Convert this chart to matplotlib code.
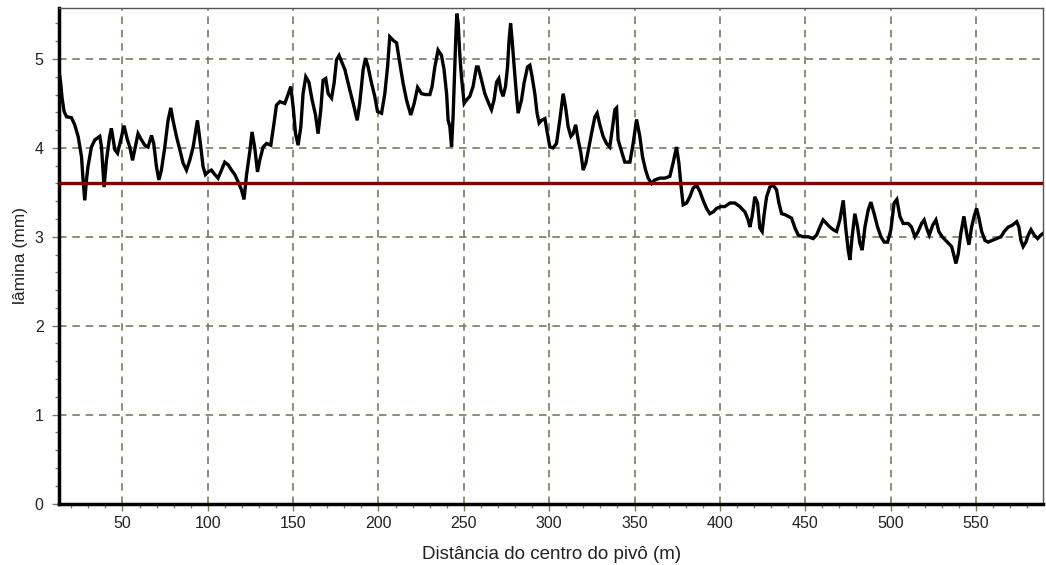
import numpy as np
import matplotlib
matplotlib.use("Agg")
import matplotlib.pyplot as plt
from matplotlib.ticker import MultipleLocator

## distancia ao centro do pivo (m)
distancia = [
    12.7, 13.8, 14.6, 15.8, 17.2, 20.1, 22.0, 24.0, 26.0, 26.9, 27.9, 28.9, 29.8, 31.8, 33.8, 36.7, 37.7, 39.2,
    40.6, 42.5, 43.5, 45.5, 47.1, 49.0, 50.9, 52.9, 54.3, 55.9, 57.2, 59.1, 61.1, 63.1, 65.0, 67.0, 68.3, 69.9,
    71.3, 72.8, 74.8, 76.7, 78.3, 79.6, 81.6, 83.6, 85.5, 87.5, 89.4, 91.4, 93.9, 95.9, 97.2, 98.6, 100.2, 102.1,
    104.1, 106.0, 108.0, 109.9, 111.9, 113.9, 115.8, 117.7, 119.7, 121.2, 122.7, 124.6, 125.9, 127.5, 129.1, 130.4,
    132.4, 134.4, 136.9, 138.8, 140.2, 142.2, 145.1, 147.0, 148.6, 150.0, 151.4, 152.9, 154.5, 155.8, 157.4, 159.2,
    161.1, 163.1, 164.6, 166.2, 167.5, 169.1, 170.5, 172.5, 174.0, 175.4, 176.9, 180.3, 183.2, 185.7, 187.5, 189.0,
    191.0, 192.4, 193.9, 195.9, 197.8, 199.4, 201.8, 203.7, 205.3, 206.6, 208.6, 210.6, 212.5, 214.4, 216.4, 218.9,
    220.9, 222.9, 225.2, 227.5, 230.1, 231.4, 233.0, 234.9, 236.9, 238.4, 239.9, 240.8, 241.8, 242.8, 243.7, 244.7,
    245.3, 245.9, 246.7, 247.6, 248.6, 250.2, 251.6, 253.5, 255.4, 257.4, 258.4, 260.4, 262.3, 264.6, 266.2, 267.7,
    269.2, 270.5, 271.7, 273.0, 274.4, 275.6, 276.5, 277.4, 278.3, 279.5, 280.9, 281.8, 283.8, 285.3, 287.3, 288.7,
    290.0, 291.6, 292.9, 294.1, 295.5, 297.5, 299.0, 300.4, 302.3, 304.3, 306.2, 308.2, 309.6, 311.1, 312.7, 314.0,
    315.5, 317.0, 318.6, 319.9, 321.5, 323.2, 325.2, 326.8, 328.1, 329.7, 331.6, 333.6, 335.5, 336.9, 338.5, 339.5,
    340.4, 342.4, 344.3, 347.3, 349.2, 351.2, 353.1, 354.7, 356.5, 358.0, 360.0, 361.9, 364.9, 367.8, 370.7, 372.6,
    374.6, 376.0, 377.2, 378.5, 380.5, 382.4, 384.4, 386.4, 388.3, 390.2, 392.2, 394.1, 396.1, 398.1, 400.6, 402.9,
    405.9, 408.8, 411.7, 414.7, 416.6, 417.6, 418.9, 420.5, 422.1, 423.4, 424.8, 426.0, 427.4, 429.3, 431.2, 433.2,
    434.6, 436.2, 438.1, 440.0, 442.0, 444.0, 445.9, 448.8, 451.8, 454.7, 456.7, 458.6, 460.5, 462.5, 464.5, 466.4,
    468.4, 470.3, 472.3, 473.7, 475.2, 476.2, 477.5, 479.1, 480.7, 482.0, 483.4, 485.0, 486.9, 488.5, 490.4, 492.4,
    494.4, 496.3, 498.3, 500.2, 502.1, 503.7, 505.5, 507.4, 510.4, 512.3, 514.3, 516.2, 518.2, 519.7, 521.1, 522.7,
    524.7, 526.6, 528.3, 530.3, 532.3, 533.8, 535.8, 537.3, 538.3, 539.7, 541.2, 543.0, 544.6, 545.9, 547.5, 549.0,
    550.4, 551.8, 553.4, 555.3, 557.2, 559.6, 562.2, 564.7, 566.6, 569.0, 571.3, 573.9, 575.2, 576.4, 577.7, 579.3,
    580.7, 582.3, 584.2, 586.2, 588.1, 589.5,
]

## lamina aplicada (mm)
lamina = [
    4.88, 4.73, 4.56, 4.41, 4.35, 4.34, 4.26, 4.13, 3.90, 3.64, 3.41, 3.64, 3.79, 4.01, 4.09, 4.13, 4.01, 3.56,
    3.86, 4.13, 4.22, 3.98, 3.94, 4.09, 4.25, 4.09, 4.01, 3.86, 3.98, 4.16, 4.09, 4.03, 4.01, 4.14, 4.05, 3.79,
    3.64, 3.75, 4.01, 4.31, 4.45, 4.31, 4.13, 3.98, 3.83, 3.75, 3.86, 4.01, 4.31, 4.01, 3.79, 3.70, 3.73, 3.75,
    3.70, 3.66, 3.75, 3.84, 3.81, 3.75, 3.70, 3.62, 3.53, 3.42, 3.70, 3.96, 4.18, 4.00, 3.73, 3.86,
    4.01, 4.05, 4.03, 4.28, 4.48, 4.52, 4.50, 4.60, 4.69, 4.46, 4.16, 4.03, 4.24, 4.61, 4.80, 4.74,
    4.54, 4.37, 4.16, 4.43, 4.76, 4.78, 4.61, 4.56, 4.73, 4.99, 5.04, 4.88, 4.65, 4.46, 4.31, 4.50,
    4.88, 5.01, 4.91, 4.73, 4.58, 4.41, 4.39, 4.61, 4.91, 5.25, 5.21, 5.18, 4.95, 4.73, 4.54, 4.37,
    4.50, 4.68, 4.61, 4.60, 4.60, 4.69, 4.91, 5.10, 5.04, 4.88, 4.61, 4.31, 4.24, 4.01, 4.35, 4.91,
    5.25, 5.51, 5.40, 5.06, 4.80, 4.50, 4.54, 4.58, 4.69, 4.91, 4.91, 4.76, 4.61, 4.50, 4.43, 4.54,
    4.74, 4.78, 4.65, 4.58, 4.69, 4.91, 5.21, 5.40, 5.21, 4.91, 4.58, 4.39, 4.54, 4.73, 4.91, 4.93,
    4.80, 4.61, 4.39, 4.28, 4.31, 4.33, 4.16, 4.01, 4.00, 4.05, 4.31, 4.61, 4.46, 4.24, 4.13, 4.16,
    4.26, 4.09, 3.94, 3.75, 3.83, 4.00, 4.20, 4.35, 4.39, 4.26, 4.13, 4.05, 4.01, 4.20, 4.43, 4.45,
    4.09, 3.96, 3.84, 3.84, 4.05, 4.32, 4.13, 3.90, 3.75, 3.66, 3.60, 3.64, 3.66, 3.66, 3.68, 3.83,
    4.01, 3.83, 3.58, 3.36, 3.38, 3.45, 3.55, 3.58, 3.51, 3.41, 3.32, 3.26, 3.28, 3.32, 3.34, 3.34,
    3.38, 3.38, 3.34, 3.28, 3.19, 3.11, 3.23, 3.45, 3.38, 3.10, 3.06, 3.26, 3.45, 3.56, 3.58, 3.53,
    3.38, 3.26, 3.25, 3.23, 3.21, 3.10, 3.02, 3.00, 3.00, 2.98, 3.02, 3.11, 3.19, 3.15, 3.11, 3.08,
    3.06, 3.19, 3.41, 3.11, 2.85, 2.74, 3.00, 3.26, 3.11, 2.93, 2.85, 3.11, 3.30, 3.39, 3.26, 3.11,
    3.00, 2.94, 2.94, 3.08, 3.38, 3.42, 3.23, 3.15, 3.15, 3.11, 3.00, 3.06, 3.15, 3.19, 3.10, 3.02,
    3.13, 3.19, 3.06, 3.00, 2.96, 2.93, 2.89, 2.78, 2.70, 2.81, 3.04, 3.23, 3.04, 2.91, 3.11, 3.23,
    3.32, 3.21, 3.06, 2.96, 2.94, 2.96, 2.98, 3.00, 3.06, 3.11, 3.13, 3.17, 3.11, 2.96, 2.89, 2.94,
    3.02, 3.08, 3.02, 2.98, 3.02, 3.04,
]

## lamina media (mm)
lamina_media = 3.61

xticks_ = [50, 100, 150, 200, 250, 300, 350, 400, 450, 500, 550]
yticks_ = [0, 1, 2, 3, 4, 5]

plt.rcParams['font.family'] = ['Liberation Sans', 'DejaVu Sans']

fig = plt.figure(figsize=(10.46, 5.65), dpi=100)
ax = fig.add_axes([0.0564, 0.1088, 0.9410, 0.8765])

gridcolor = "#7c7c5c"
ax.grid(True, which="major", color=gridcolor, linestyle=(0, (4.5, 3.5)), linewidth=1.2)
ax.set_axisbelow(True)

ax.plot(distancia, lamina, color="black", linewidth=2.4, solid_joinstyle="miter", zorder=3)
ax.axhline(lamina_media, color="#800000", linewidth=2.4, zorder=4)

ax.set_xlim(12.8, 589.5)
ax.set_ylim(0, 5.57)
ax.set_xticks(xticks_)
ax.set_yticks(yticks_)
ax.xaxis.set_minor_locator(MultipleLocator(10))
ax.yaxis.set_minor_locator(MultipleLocator(0.2))
ax.tick_params(which="major", direction="out", length=5, width=1, color=gridcolor,
               labelsize=11.5, labelcolor="#222222", pad=4)
ax.tick_params(axis="y", which="major", pad=6)
ax.tick_params(which="minor", direction="out", length=3, width=1, color=gridcolor)

## thick black left/bottom axis, thin frame on the other sides
for side in ["left", "bottom"]:
    ax.spines[side].set_linewidth(2.5)
    ax.spines[side].set_color("black")
for side in ["top", "right"]:
    ax.spines[side].set_linewidth(1.0)
    ax.spines[side].set_color("#555555")

ax.set_xlabel(u"Distância do centro do pivô (m)", fontsize=13.5, color="#222222", labelpad=11)
ax.set_ylabel(u"lâmina (mm)", fontsize=12.5, color="#222222", labelpad=5)

fig.savefig("out.png", dpi=100)
